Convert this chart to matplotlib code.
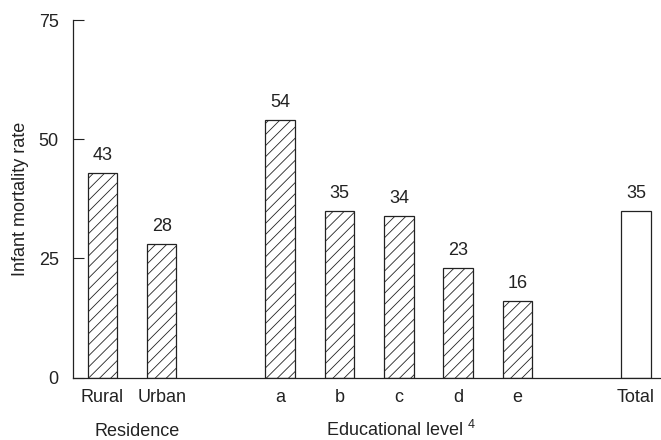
import numpy as np
import matplotlib.pyplot as plt
from matplotlib import transforms

plt.rcParams['font.family'] = ['Liberation Sans', 'DejaVu Sans']
plt.rcParams['mathtext.fontset'] = 'custom'
plt.rcParams['mathtext.rm'] = 'Liberation Sans'
plt.rcParams['mathtext.it'] = 'Liberation Sans'
plt.rcParams['hatch.linewidth'] = 0.6

    #Data
labels = ["Rural", "Urban", "a", "b", "c", "d", "e", "Total"]
values = [43, 28, 54, 35, 34, 23, 16, 35]
positions = [0, 1, 3, 4, 5, 6, 7, 9]
hatched = [True, True, True, True, True, True, True, False]

groups = ["Residence", "Educational level $^{4}$"]
group_x = [0.58, 5.03]

fs = 13
ink = '#222222'

fig = plt.figure(figsize=(6.61, 4.4), dpi=100)
ax = fig.add_axes([0.110, 0.1416, 0.89, 0.8129])

for p, v, h in zip(positions, values, hatched):
    ax.bar(p, v, width=0.5, color='white', edgecolor=ink, linewidth=0.9,
           hatch='///' if h else None)
    ax.annotate(str(v), (p, v), xytext=(0, 6.5), textcoords='offset points',
                ha='center', va='bottom', fontsize=fs, color=ink)

ax.set_xlim(-0.5, 9.42)
ax.set_ylim(0, 75)
ax.set_yticks([0, 25, 50, 75])
ax.set_xticks(positions)
ax.set_xticklabels(labels)
ax.tick_params(axis='y', direction='in', length=8, width=0.8, pad=10,
               labelsize=fs, colors=ink)
ax.tick_params(axis='x', length=0, pad=8, labelsize=fs, colors=ink)

for s in ['top', 'right']:
    ax.spines[s].set_visible(False)
for s in ['left', 'bottom']:
    ax.spines[s].set_linewidth(0.9)
    ax.spines[s].set_color(ink)

ax.set_ylabel("Infant mortality rate", fontsize=fs, color=ink, labelpad=7)

    #group captions under the tick labels
trans = transforms.blended_transform_factory(ax.transData, ax.transAxes)
for g, gx in zip(groups, group_x):
    ax.text(gx, -0.163, g, transform=trans, ha='center', va='baseline',
            fontsize=fs, color=ink)

fig.savefig("out.png", dpi=100)
